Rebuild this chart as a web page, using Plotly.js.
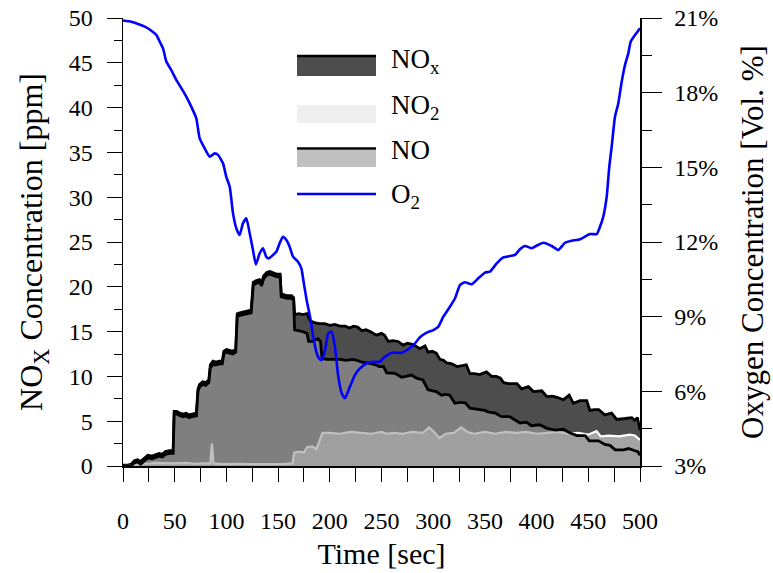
<!DOCTYPE html>
<html>
<head>
<meta charset="utf-8">
<script src="https://cdn.plot.ly/plotly-3.0.1.min.js"></script>
<style>html,body{margin:0;padding:0;background:#fff;}#chart{width:773px;height:573px;}</style>
</head>
<body>
<div id="chart"></div>
<script>
// ---------- data ----------
const tNOx = [0,5,8,11,14,17,20,24,28,31,35,38,41,45,48.5,49.5,52,55,58,61,64,67,71,72.5,74,77,80,83,84.5,87,90,93,96,97.5,100,103,106,109,110.5,113,116,120,124,126,129,132,134,136,139,142,146,149,152,153,156,159,163,165,166,170,174,178,181,185,190,195,200,205,210,215,219,223,227,231,235,239,245,250,253,256.5,261,266,271,275,279,283,287,292,295,299,303,306.5,310,313,318,323,328,332,335.5,340,345,351.5,356.5,361,365,368,373,377.5,381,385.5,392,397,405,410,415,419,426,431.5,435.5,442,448.5,451.5,456,460,466,472.5,477.5,485.5,492,495,497.5,500];
const NOx  = [0.1,0.1,0.2,0.6,0.7,0.5,0.8,1.2,1.1,1.2,1.4,1.3,1.6,1.7,1.7,6.1,6.1,5.9,5.8,5.9,5.7,5.8,5.9,8.6,9.1,9.4,9.3,9.6,11.3,11.7,11.6,11.7,11.7,12.8,13.0,12.9,12.8,13.0,17.0,17.1,17.2,17.3,17.4,20.5,20.7,20.8,20.4,21.2,21.6,21.7,21.5,21.4,21.4,19.2,19.1,19.0,19.0,18.8,16.9,17.0,16.9,17.0,16.2,16.0,15.9,15.9,15.7,15.8,15.6,15.6,15.4,15.6,15.5,15.1,15.2,15.0,14.6,14.8,14.6,13.9,14.0,13.9,13.5,13.7,13.6,13.4,13.1,13.4,12.7,12.8,12.6,11.9,11.8,11.5,11.4,11.1,11.2,11.3,10.3,10.3,10.2,10.5,10.0,10.0,9.8,9.3,9.2,9.2,9.2,8.6,8.85,8.3,8.4,7.75,7.8,7.7,7.4,7.9,7.0,7.3,7.3,6.2,6.3,6.3,5.7,5.9,5.2,5.3,5.4,5.1,5.4,4.0];

const tNO = [0,5,8,11,14,17,20,24,28,31,35,38,41,45,48.5,49.5,52,55,58,61,64,67,71,72.5,74,77,80,83,84.5,87,90,93,96,97.5,100,103,106,109,110.5,113,116,120,124,126,129,132,134,136,139,142,146,149,152,153,156,159,163,165,166,170,174,178,179.5,183,186,188.5,191,192.5,197,203,210,216,222,226,231,236,244,248,252,255,259,263,269.5,274,279,284,290,295,299,303,308,312,316,321,326,331,335.5,340,345,350,353,360,366,374,380,384,390,395,403,410,418,426,432,439,447,451,460,466,471,476,484,489,495,498,500];
const NO  = [0.0,0.0,0.05,0.35,0.45,0.2,0.5,0.9,0.8,0.9,1.1,1.0,1.3,1.4,1.4,5.8,5.8,5.6,5.5,5.6,5.4,5.5,5.6,8.3,8.8,9.1,9.0,9.3,11.0,11.3,11.3,11.4,11.4,12.5,12.7,12.6,12.5,12.7,16.7,16.8,16.9,17.0,17.1,20.2,20.4,20.5,20.1,20.9,21.3,21.4,21.2,21.1,21.1,18.9,18.8,18.7,18.7,18.5,15.2,15.1,15.0,14.8,13.9,13.9,14.1,14.2,13.9,12.0,11.9,11.9,11.9,11.8,11.9,11.8,11.6,11.5,11.3,11.1,11.1,10.4,10.4,10.35,9.9,10.0,10.15,9.8,9.6,8.5,8.4,8.3,7.9,8.0,7.9,7.0,7.1,7.05,6.45,6.4,6.3,6.2,6.05,5.9,5.5,5.5,5.1,4.8,4.9,4.5,4.6,4.2,4.0,4.1,3.7,3.4,3.4,2.8,2.8,2.4,2.3,1.8,1.8,1.95,1.7,1.6,1.2];

const tNO2 = [0,8,12,16,20,25,30,40,50,60,70,80,84.5,86,87.5,95,110,125,140,155,164,165.5,170,175,178,183,187,190,193,200,210,220,230,240,250,255,262,270,280,290,296,300,306,312,320,327,333,340,350,360,370,380,390,400,410,420,430,440,450,458,462,470,480,490,495,500];
const NO2  = [0,0.05,0.2,0.15,0.3,0.25,0.35,0.3,0.3,0.35,0.25,0.3,0.3,2.5,0.3,0.2,0.25,0.2,0.2,0.2,0.3,1.5,1.6,1.5,2.1,2.2,1.9,2.9,3.7,3.7,3.6,3.8,3.7,3.6,3.8,3.6,3.7,3.6,3.8,3.7,4.3,3.9,3.1,3.6,3.7,4.3,3.8,3.6,3.8,3.6,3.8,3.7,3.8,3.6,3.7,3.8,3.6,3.7,3.5,3.9,3.3,3.4,3.3,3.5,3.4,2.9];

const tO2 = [0,8,14.5,21,27.4,32.2,35.5,38.7,41.9,46.7,51.5,56.4,61.2,66,70.9,74.1,79,83.8,88.7,91.9,96.7,99.9,103.2,106.4,109.6,112.8,116,119.3,122.5,125.7,128.5,132.2,135.4,138.6,141,144,148.3,151.5,154.7,158,161.2,164.4,169.2,172.5,174.4,177.6,180.9,184,187.3,190,192.2,195.4,198.6,201.8,205,208.2,211.5,214.7,219.5,224.4,229.2,235.7,242.1,248.5,251.7,259.9,269.5,276,282.4,287.2,293.7,300.1,305,309.8,316.2,321.1,325.9,330.8,337.2,343.6,350.1,354.9,361.4,367.8,374.3,379.1,383.9,388.8,395.3,400,406.5,414.6,421,427.5,433.9,442,451.6,458.1,461.3,464.5,467.8,470.3,472.6,475.8,479,482.3,485.5,488.7,491,495.2,499.4,500];
const O2  = [20.9,20.85,20.76,20.65,20.49,20.32,20.05,19.78,19.25,18.91,18.51,18.18,17.84,17.44,16.97,16.17,15.76,15.43,15.56,15.5,15.16,14.62,14.22,13.15,12.55,12.28,12.75,12.95,12.35,11.68,11.1,11.55,11.75,11.4,11.34,11.44,11.61,11.95,12.21,12.08,11.81,11.41,11.21,10.94,10.47,9.67,9.0,8.19,7.53,7.3,7.26,7.66,8.33,8.4,7.79,6.59,5.92,5.72,6.19,6.66,6.92,7.13,7.19,7.19,7.33,7.55,7.55,7.69,7.93,8.17,8.36,8.46,8.6,9.0,9.4,9.74,10.27,10.38,10.3,10.54,10.77,10.81,11.14,11.38,11.44,11.48,11.71,11.84,11.75,11.85,11.97,11.84,11.68,11.97,12.05,12.11,12.32,12.32,12.61,13.02,13.82,15.03,15.83,17.03,17.57,18.44,19.11,19.58,20.05,20.32,20.55,20.6];

const seriesNames = ['NO<sub>x</sub>', 'NO<sub>2</sub>', 'NO', 'O<sub>2</sub>'];
const xTitle = 'Time [sec]';
const yTitle = 'NO<sub>X</sub> Concentration [ppm]';
const y2Title = 'Oxygen Concentration [Vol. %]';

// ---------- chart ----------
const FONT = '"Liberation Serif", "Times New Roman", serif';
const traces = [
  {x: tNOx, y: NOx, type: 'scatter', mode: 'lines', name: seriesNames[0], fill: 'tozeroy',
   fillcolor: '#4d4d4d', line: {color: '#000', width: 2.8}, hoverinfo: 'skip'},
  {x: tNO2, y: NO2, type: 'scatter', mode: 'lines', name: seriesNames[1], fill: 'tozeroy',
   fillcolor: 'rgba(229,229,229,0.58)', line: {color: '#ffffff', width: 2.2}, hoverinfo: 'skip'},
  {x: tNO, y: NO, type: 'scatter', mode: 'lines', name: seriesNames[2], fill: 'tozeroy',
   fillcolor: 'rgba(157,157,157,0.64)', line: {color: '#000', width: 2.8}, hoverinfo: 'skip'},
  {x: tO2, y: O2, type: 'scatter', mode: 'lines', name: seriesNames[3], yaxis: 'y2',
   line: {color: '#0000ff', width: 2.6, shape: 'spline', smoothing: 0.5}, hoverinfo: 'skip'}
];

// plot-area pixel geometry -> paper coordinates for the hand-drawn legend
const L = 123, R = 640, T = 18, B = 466;
const px = v => (v - L) / (R - L);
const py = v => (B - v) / (B - T);

const shapes = [
  {type: 'rect', xref: 'paper', yref: 'paper', x0: px(297), x1: px(376), y0: py(76), y1: py(57), fillcolor: '#4d4d4d', line: {width: 0}},
  {type: 'line', xref: 'paper', yref: 'paper', x0: px(297), x1: px(376), y0: py(56), y1: py(56), line: {color: '#000', width: 2.5}},
  {type: 'rect', xref: 'paper', yref: 'paper', x0: px(297), x1: px(376), y0: py(123), y1: py(105), fillcolor: '#efefef', line: {width: 0}},
  {type: 'rect', xref: 'paper', yref: 'paper', x0: px(297), x1: px(376), y0: py(167), y1: py(150), fillcolor: '#c0c0c0', line: {width: 0}},
  {type: 'line', xref: 'paper', yref: 'paper', x0: px(297), x1: px(376), y0: py(148.5), y1: py(148.5), line: {color: '#000', width: 2.5}},
  {type: 'line', xref: 'paper', yref: 'paper', x0: px(297), x1: px(376), y0: py(194), y1: py(194), line: {color: '#0000ff', width: 2.5}}
];
const legY = [61, 107, 150, 196];
const annotations = seriesNames.map((n, i) => ({
  text: n, xref: 'paper', yref: 'paper', x: px(389), y: py(legY[i]), xanchor: 'left', yanchor: 'middle',
  showarrow: false, font: {family: FONT, size: 27, color: '#000'}
}));

const axisCommon = {
  showline: true, linecolor: '#000', linewidth: 1.5, showgrid: false, zeroline: false,
  ticks: 'outside', tickcolor: '#000', tickwidth: 1, tickfont: {family: FONT, size: 24, color: '#000'}
};

const layout = {
  width: 773, height: 573,
  margin: {l: L, r: 773 - R, t: T, b: 573 - B},
  paper_bgcolor: '#fff', plot_bgcolor: '#fff',
  font: {family: FONT, color: '#000'},
  showlegend: false,
  xaxis: Object.assign({}, axisCommon, {
    range: [0, 500], tick0: 0, dtick: 50, ticklen: 14, ticklabelstandoff: 19,
    minor: {dtick: 25, ticks: 'outside', ticklen: 14, tickcolor: '#000', tickwidth: 1},
    title: {text: xTitle, font: {family: FONT, size: 30, color: '#000'}, standoff: 9}
  }),
  yaxis: Object.assign({}, axisCommon, {
    range: [0, 50], tick0: 0, dtick: 5, ticklen: 15, ticklabelstandoff: 9,
    minor: {dtick: 2.5, ticks: 'outside', ticklen: 8, tickcolor: '#000', tickwidth: 1},
    title: {text: yTitle, font: {family: FONT, size: 32, color: '#000'}, standoff: 16}
  }),
  yaxis2: Object.assign({}, axisCommon, {
    overlaying: 'y', side: 'right', range: [3, 21], tick0: 3, dtick: 3, ticksuffix: '%',
    ticklen: 20, ticklabelstandoff: 8,
    minor: {dtick: 1.5, ticks: 'outside', ticklen: 10, tickcolor: '#000', tickwidth: 1},
    title: {text: y2Title, font: {family: FONT, size: 31, color: '#000'}, standoff: 24}
  }),
  shapes: shapes,
  annotations: annotations
};

Plotly.newPlot('chart', traces, layout, {staticPlot: true, displayModeBar: false});
</script>
</body>
</html>
